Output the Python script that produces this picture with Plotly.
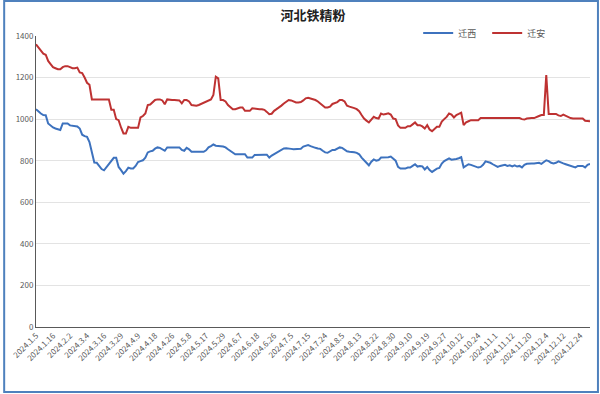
import plotly.graph_objects as go

tick_labels = ["2024.1.5", "2024.1.16", "2024.2.2", "2024.3.4", "2024.3.16", "2024.3.29",
               "2024.4.9", "2024.4.18", "2024.4.26", "2024.5.8", "2024.5.17", "2024.5.29",
               "2024.6.7", "2024.6.18", "2024.6.26", "2024.7.5", "2024.7.15", "2024.7.24",
               "2024.8.5", "2024.8.13", "2024.8.22", "2024.8.30", "2024.9.10", "2024.9.19",
               "2024.9.27", "2024.10.12", "2024.10.24", "2024.11.1", "2024.11.12", "2024.11.20",
               "2024.12.4", "2024.12.12", "2024.12.24"]
tick_step = 7

qianan = [
    1360, 1345, 1330, 1315, 1310, 1280, 1265, 1250, 1245, 1240,
    1240, 1250, 1255, 1255, 1250, 1245, 1245, 1248, 1225, 1222,
    1200, 1175, 1165, 1095, 1095, 1095, 1095, 1095, 1095, 1095,
    1095, 1045, 1045, 1000, 995, 960, 931, 931, 963, 958,
    958, 958, 958, 1008, 1015, 1027, 1068, 1070, 1080, 1092,
    1095, 1095, 1090, 1072, 1095, 1092, 1092, 1092, 1090, 1090,
    1076, 1092, 1092, 1085, 1068, 1065, 1065, 1068, 1073, 1078,
    1084, 1090, 1095, 1116, 1204, 1196, 1092, 1092, 1085, 1068,
    1058, 1048, 1048, 1052, 1056, 1056, 1040, 1040, 1040, 1052,
    1050, 1048, 1048, 1048, 1045, 1035, 1024, 1026, 1040, 1048,
    1055, 1065, 1075, 1084, 1092, 1090, 1085, 1080, 1080, 1082,
    1090, 1100, 1103, 1100, 1095, 1092, 1085, 1076, 1066, 1056,
    1056, 1060, 1073, 1076, 1082, 1092, 1092, 1085, 1065, 1060,
    1058, 1053, 1048, 1038, 1020, 1003, 993, 984, 998, 1011,
    1005, 1003, 1027, 1022, 1025, 1028, 1022, 1003, 1000, 970,
    958, 958, 958, 966, 966, 975, 984, 971, 971, 965,
    955, 971, 950, 942, 955, 963, 963, 988, 1000, 1011,
    1027, 1022, 1008, 1020, 1025, 1031, 971, 985, 990, 995,
    995, 995, 995, 1005, 1005, 1005, 1005, 1005, 1005, 1005,
    1005, 1005, 1005, 1005, 1005, 1005, 1005, 1005, 1005, 1005,
    1000, 998, 1003, 1005, 1005, 1005, 1012, 1015, 1020, 1020,
    1212, 1025, 1025, 1025, 1025, 1018, 1015, 1022, 1015, 1010,
    1005, 1003, 1003, 1003, 1003, 1003, 992, 992, 990,
]

qianxi = [
    1048, 1035, 1027, 1020, 1019, 979, 968, 960, 955, 952,
    948, 979, 979, 979, 970, 968, 968, 965, 955, 925,
    918, 915, 890, 840, 791, 790, 775, 760, 754, 770,
    787, 800, 814, 814, 770, 755, 738, 750, 767, 763,
    763, 775, 794, 798, 802, 815, 840, 845, 848, 858,
    864, 862, 855, 848, 864, 864, 864, 864, 864, 864,
    852, 848, 862, 855, 843, 843, 843, 843, 843, 843,
    850, 864, 870, 878, 872, 872, 870, 868, 864, 855,
    847, 838, 831, 831, 831, 831, 831, 815, 815, 815,
    828, 829, 829, 829, 829, 829, 815, 825, 832, 838,
    845, 855, 859, 860, 860, 857, 855, 855, 856, 858,
    868, 871, 875, 870, 865, 862, 859, 857, 848, 840,
    838, 845, 852, 852, 858, 864, 862, 855, 845, 843,
    843, 841, 838, 831, 815, 802, 790, 778, 795, 806,
    800, 803, 815, 815, 815, 817, 820, 810, 800, 770,
    762, 762, 762, 767, 767, 775, 783, 772, 775, 773,
    758, 770, 755, 746, 755, 762, 765, 786, 798, 806,
    811, 805, 805, 808, 812, 817, 768, 775, 783, 780,
    775, 770, 767, 770, 780, 797, 795, 790, 783, 778,
    770, 775, 778, 780, 775, 778, 773, 778, 772, 775,
    768, 780, 785, 787, 787, 787, 787, 790, 785, 795,
    802, 798, 790, 787, 790, 797, 790, 787, 783, 780,
    777, 772, 768, 775, 775, 775, 768, 780, 785,
]

x = list(range(len(qianxi)))
tickvals = [i * tick_step for i in range(len(tick_labels))]

FONT = "Noto Sans CJK SC, Liberation Sans, sans-serif"
W, H = 600, 394
L, R, T, B = 33, 10, 36, 67
pw, ph = W - L - R, H - T - B


def px_x(v):
    return (v - L) / pw


def px_y(v):
    return (H - B - v) / ph


fig = go.Figure()
fig.add_trace(go.Scatter(x=x, y=qianxi, mode="lines", name="迁西",
                         line=dict(color="#3D72BE", width=2)))
fig.add_trace(go.Scatter(x=x, y=qianan, mode="lines", name="迁安",
                         line=dict(color="#BE3232", width=2)))

# outer blue frame
fig.add_shape(type="rect", xref="paper", yref="paper",
              x0=px_x(1), x1=px_x(598), y0=px_y(392), y1=px_y(1),
              line=dict(color="#4F81BD", width=2), fillcolor="rgba(0,0,0,0)", layer="above")

fig.update_layout(
    width=W, height=H,
    margin=dict(l=L, r=R, t=T, b=B),
    paper_bgcolor="white", plot_bgcolor="white",
    font=dict(family=FONT, size=8, color="#595959"),
    title=dict(text="<b>河北铁精粉</b>", x=0.5, xref="paper", xanchor="center",
               y=1 - 15 / H, yanchor="middle",
               font=dict(family=FONT, size=13, color="#222222")),
    showlegend=True,
    legend=dict(orientation="h", x=px_x(556), xanchor="right", y=px_y(33), yanchor="middle",
                font=dict(size=9, color="#595959"), bgcolor="rgba(0,0,0,0)",
                itemwidth=30, tracegroupgap=0, entrywidth=24, entrywidthmode="pixels"),
    xaxis=dict(range=[0, len(x) - 1], tickmode="array", tickvals=tickvals, ticktext=tick_labels,
               tickangle=-45, tickfont=dict(size=8, color="#595959"), showgrid=False,
               showline=True, linecolor="#595959", linewidth=1, ticks="", zeroline=False),
    yaxis=dict(range=[0, 1400], tickmode="array", tickvals=list(range(0, 1401, 200)),
               tickfont=dict(size=8, color="#595959"), showgrid=True, gridcolor="#E3E3E3",
               gridwidth=1, showline=True, linecolor="#595959", linewidth=1, ticks="",
               zeroline=False),
)

fig.write_html("out.html", config={"displayModeBar": False},
               post_script="document.body.style.margin='0';document.body.style.overflow='hidden';")
